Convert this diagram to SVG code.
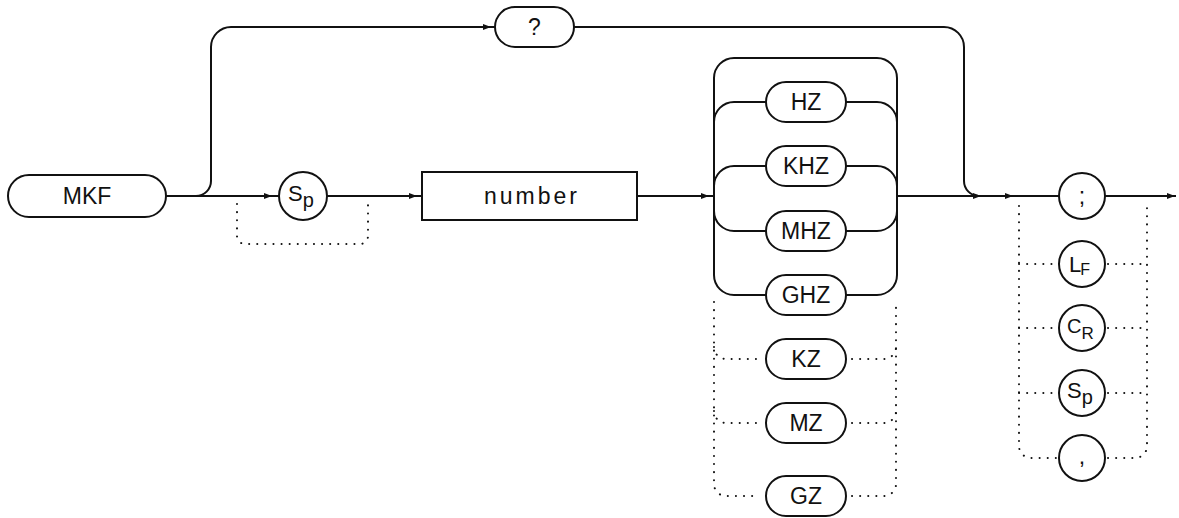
<svg xmlns="http://www.w3.org/2000/svg" width="1179" height="518" viewBox="0 0 1179 518">
<style>
.s{fill:none;stroke:#111;stroke-width:2}
.d{fill:none;stroke:#111;stroke-width:2;stroke-dasharray:0.1 8;stroke-linecap:round}
.n{fill:#fff;stroke:#111;stroke-width:2}
.t{font-family:"Liberation Sans",Arial,sans-serif;font-size:23px;fill:#111;text-anchor:middle}
.c{font-family:"Liberation Sans",Arial,sans-serif;fill:#111}
</style>
<defs>
<path id="ar" d="M-8,-3 L0,0 L-8,3 z" fill="#111"/>
</defs>
<rect width="1179" height="518" fill="#fff"/>
<g id="connectors">
<path class="s" d="M166 196 L279 196"/>
<path class="s" d="M196 196 A15 15 0 0 0 211 181 L211 47 A20 20 0 0 1 231 27 L495 27"/>
<path class="s" d="M574 27 L944 27 A20 20 0 0 1 964 47 L964 181 A15 15 0 0 0 979 196"/>
<path class="d" d="M237 204 L237 236 A8 8 0 0 0 245 244 L360 244 A8 8 0 0 0 368 236 L368 204"/>
<path class="s" d="M327 196 L422 196"/>
<path class="s" d="M637 196 L714 196"/>
<path class="s" d="M714 275 L714 78 A20 20 0 0 1 734 58 L877 58 A20 20 0 0 1 897 78 L897 275"/>
<path class="s" d="M714 122 A20 20 0 0 1 734 102 L766 102 M846 102 L877 102 A20 20 0 0 1 897 122"/>
<path class="s" d="M714 186 A20 20 0 0 1 734 166 L766 166 M846 166 L877 166 A20 20 0 0 1 897 186"/>
<path class="s" d="M714 211 A20 20 0 0 0 734 231 L766 231 M846 231 L877 231 A20 20 0 0 0 897 211"/>
<path class="s" d="M714 275 A20 20 0 0 0 734 295 L766 295 M846 295 L877 295 A20 20 0 0 0 897 275"/>
<path class="d" d="M714 302 L714 484 A12 12 0 0 0 726 496 L760 496 M852 496 L884 496 A12 12 0 0 0 896 484 L896 302"/>
<path class="d" d="M714 347 A12 12 0 0 0 726 359 L760 359 M852 359 L884 359 A12 12 0 0 0 896 347"/>
<path class="d" d="M714 411 A12 12 0 0 0 726 423 L760 423 M852 423 L884 423 A12 12 0 0 0 896 411"/>
<path class="s" d="M897 196 L1059 196"/>
<path class="s" d="M1105 196 L1176 196"/>
<path class="d" d="M1019 206 L1019 446 A12 12 0 0 0 1031 458 L1056 458 M1108 458 L1135 458 A12 12 0 0 0 1147 446 L1147 206"/>
<path class="d" d="M1019 264 L1056 264 M1108 264 L1147 264"/>
<path class="d" d="M1019 328 L1056 328 M1108 328 L1147 328"/>
<path class="d" d="M1019 393 L1056 393 M1108 393 L1147 393"/>
<use href="#ar" x="272" y="196"/>
<use href="#ar" x="417" y="196"/>
<use href="#ar" x="709" y="196"/>
<use href="#ar" x="491" y="27"/>
<use href="#ar" x="981" y="196"/>
<use href="#ar" x="1013" y="196"/>
<use href="#ar" x="1175" y="196"/>
</g>
<g id="mkf">
<rect class="n" x="8" y="175" width="158" height="42" rx="21"/>
<text class="t" x="87" y="204">MKF</text>
</g>
<g id="sp1">
<circle class="n" cx="303" cy="196" r="24"/>
<text class="c" x="288" y="201" font-size="22">S<tspan dy="6" font-size="20">p</tspan></text>
</g>
<g id="query">
<rect class="n" x="495" y="7" width="79" height="40" rx="20"/>
<text class="t" x="534.5" y="35">?</text>
</g>
<g id="number">
<rect class="n" x="422" y="172" width="215" height="48"/>
<text class="t" x="532" y="204" font-size="22" letter-spacing="3">number</text>
</g>
<g id="hz">
<rect class="n" x="766" y="82" width="80" height="40" rx="20"/>
<text class="t" x="806" y="110">HZ</text>
</g>
<g id="khz">
<rect class="n" x="766" y="146" width="80" height="40" rx="20"/>
<text class="t" x="806" y="174">KHZ</text>
</g>
<g id="mhz">
<rect class="n" x="766" y="211" width="80" height="40" rx="20"/>
<text class="t" x="806" y="239">MHZ</text>
</g>
<g id="ghz">
<rect class="n" x="766" y="275" width="80" height="40" rx="20"/>
<text class="t" x="806" y="303">GHZ</text>
</g>
<g id="kz">
<rect class="n" x="766" y="339" width="80" height="40" rx="20"/>
<text class="t" x="806" y="367">KZ</text>
</g>
<g id="mz">
<rect class="n" x="766" y="403" width="80" height="40" rx="20"/>
<text class="t" x="806" y="431">MZ</text>
</g>
<g id="gz">
<rect class="n" x="766" y="476" width="80" height="40" rx="20"/>
<text class="t" x="806" y="504">GZ</text>
</g>
<g id="semicolon">
<circle class="n" cx="1082" cy="196" r="23"/>
<text class="t" x="1082" y="204">;</text>
</g>
<g id="lf">
<circle class="n" cx="1082" cy="264" r="23"/>
<text class="c" x="1069" y="272" font-size="22">L<tspan dx="-1" dy="3" font-size="16">F</tspan></text>
</g>
<g id="cr">
<circle class="n" cx="1082" cy="328" r="23"/>
<text class="c" x="1067" y="333" font-size="20">C<tspan dy="6" font-size="17">R</tspan></text>
</g>
<g id="sp2">
<circle class="n" cx="1082" cy="393" r="23"/>
<text class="c" x="1067" y="398" font-size="22">S<tspan dy="6" font-size="20">p</tspan></text>
</g>
<g id="comma">
<circle class="n" cx="1082" cy="458" r="23"/>
<text class="t" x="1082" y="464">,</text>
</g>
</svg>
